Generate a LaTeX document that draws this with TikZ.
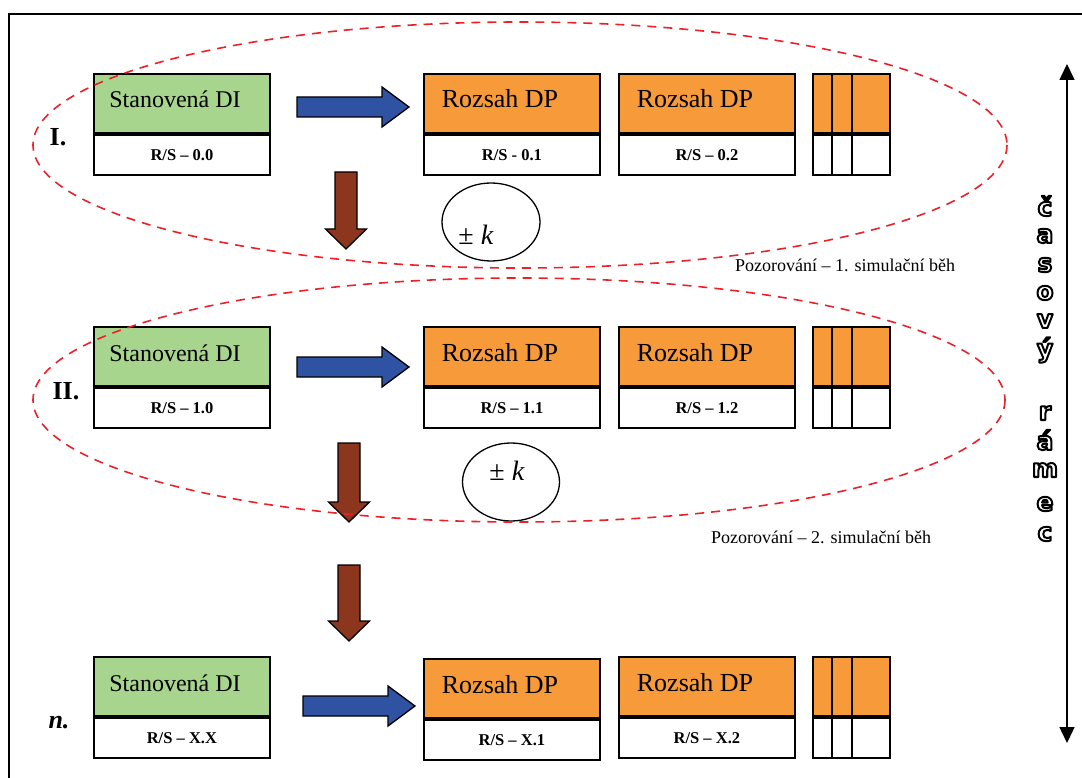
\documentclass[tikz,border=0pt]{standalone}
\usepackage{fontspec}
\setmainfont{Liberation Serif}
\newfontfamily\letterfont{DejaVu Sans}
\usetikzlibrary{calc,arrows.meta,shapes.geometric}

\definecolor{digreen}{RGB}{168,213,142}
\definecolor{dporange}{RGB}{247,154,58}
\definecolor{arrblue}{RGB}{47,82,163}
\definecolor{arrbrown}{RGB}{140,54,30}
\definecolor{runred}{RGB}{236,32,40}

% hollow letters: white fill, black outline (fill+stroke text rendering)
\newcommand{\hollow}[1]{%
  \special{pdf:literal direct q 1 1 1 rg 0 0 0 RG 2 Tr 2 w 1 j}#1\special{pdf:literal direct Q}}

\tikzset{
  boxtop/.style={draw, line width=1.8pt, inner sep=0pt, minimum height=59, anchor=north west},
  boxbot/.style={draw, line width=1.8pt, inner sep=0pt, minimum height=40, fill=white,
                 anchor=north west, font=\bfseries\fontsize{16.5}{18}\selectfont},
  titletext/.style={anchor=base, inner sep=0pt, font=\fontsize{24}{28}\selectfont},
  rowlabel/.style={anchor=base, inner sep=0pt, font=\bfseries\fontsize{26}{30}\selectfont},
  bluearrow/.style={draw, line width=1.3pt, fill=arrblue},
  brownarrow/.style={draw, line width=1.3pt, fill=arrbrown},
  runellipse/.style={draw=runred, line width=1.6pt, dash pattern=on 9pt off 7pt},
  kellipse/.style={draw, ellipse, line width=1.3pt, inner sep=0pt},
  ktext/.style={anchor=base, inner sep=0pt, font=\fontsize{28}{30}\selectfont},
  runnote/.style={anchor=base, inner sep=0pt, font=\fontsize{18}{20}\selectfont},
  vletter/.style={anchor=center, inner sep=0pt, font=\letterfont\bfseries\fontsize{25}{27}\selectfont},
}

\newcommand{\rozsah}{{\fontsize{26}{28}\selectfont Rozsah DP}}

% box with coloured title part and white label part
% #1 name, #2 left, #3 top, #4 width, #5 fill, #6 title, #7 title x offset, #8 label
\newcommand{\databox}[8]{%
  \node[boxtop, fill=#5, minimum width=#4] (#1t) at (#2,#3) {};
  \node[boxbot, minimum width=#4] (#1b) at (#1t.south west) {#8};
  \node[titletext] (#1x) at ($(#1t.north west)+(#7,35)$) {#6};
}
% stack of overlapping partial boxes
\newcommand{\stackbox}[2]{%
  \foreach \sx/\sw [count=\si] in {812/77,831/58,851/38}{
    \node[boxtop, fill=dporange, minimum width=\sw] (#1t\si) at (\sx,#2) {};
    \node[boxbot, minimum width=\sw] (#1b\si) at (#1t\si.south west) {};
  }%
}
% block arrow to the right: shaft start, head start, tip, centre y
\newcommand{\rightblock}[4]{%
  \draw[bluearrow] (#1,#4-10) -- (#2,#4-10) -- (#2,#4-20) -- (#3,#4)
    -- (#2,#4+20) -- (#2,#4+10) -- (#1,#4+10) -- cycle;}
% block arrow downwards: centre x, shaft top, head start, tip
\newcommand{\downblock}[4]{%
  \draw[brownarrow] (#1-11,#2) -- (#1+11,#2) -- (#1+11,#3) -- (#1+20.5,#3)
    -- (#1,#4) -- (#1-20.5,#3) -- (#1-11,#3) -- (#1-11,#2) -- cycle;}

\begin{document}
\begin{tikzpicture}[x=1pt,y=-1pt]
\useasboundingbox (0,0) rectangle (1082,778);
\draw[line width=2pt] (9,14) rectangle (1110,810);

% run I
\databox{a0}{93}{73}{176}{digreen}{Stanovená DI}{82}{R/S – 0.0}
\databox{a1}{423}{73}{176}{dporange}{\rozsah}{77}{R/S - 0.1}
\databox{a2}{618}{73}{176}{dporange}{\rozsah}{77}{R/S – 0.2}
\stackbox{as}{73}
\node[rowlabel] (lI) at (58,146) {I.};
\rightblock{297}{382}{409}{107}
\downblock{346}{172}{229}{249}
\node[kellipse, minimum width=98, minimum height=78] (k1) at (491,222) {};
\node[ktext] (k1t) at (476,244) {± \textit{k}};
\draw[runellipse] (520,145) ellipse [x radius=487, y radius=123];
\node[runnote] (n1) at (845,272) {Pozorování – 1. simulační běh};

% run II
\databox{b0}{93}{326}{176}{digreen}{Stanovená DI}{82}{R/S – 1.0}
\databox{b1}{423}{326}{176}{dporange}{\rozsah}{77}{R/S – 1.1}
\databox{b2}{618}{326}{176}{dporange}{\rozsah}{77}{R/S – 1.2}
\stackbox{bs}{326}
\node[rowlabel] (lII) at (66,399) {II.};
\rightblock{297}{382}{409}{367}
\downblock{349}{443}{502}{522}
\node[kellipse, minimum width=97, minimum height=78] (k2) at (511,482) {};
\node[ktext] (k2t) at (507,480) {± \textit{k}};
\draw[runellipse] (519,400) ellipse [x radius=486, y radius=122];
\node[runnote] (n2) at (821,543) {Pozorování – 2. simulační běh};

% last run
\downblock{349}{565}{621}{641}
\databox{c0}{93}{656}{176}{digreen}{Stanovená DI}{82}{R/S – X.X}
\databox{c1}{423}{658}{176}{dporange}{\rozsah}{77}{R/S – X.1}
\databox{c2}{618}{656}{176}{dporange}{\rozsah}{77}{R/S – X.2}
\stackbox{cs}{656}
\node[rowlabel, font=\bfseries\itshape\fontsize{26}{30}\selectfont] (ln) at (59,728) {n.};
\rightblock{303}{388}{415}{706}

% time frame axis
\coordinate (ttop) at (1067,64);
\coordinate (tbot) at (1067,743);
\draw[line width=1.5pt, {Triangle[width=15pt,length=16pt]}-{Triangle[width=15pt,length=16pt]}] (ttop) -- (tbot);
\foreach \ch/\cy [count=\ci] in {č/206,a/236,s/265,o/293,v/321,ý/350,r/413,á/440,m/470,e/504,c/534}{
  \node[vletter] (v\ci) at (1045,\cy) {\hollow{\ch}};
}
\end{tikzpicture}
\end{document}
